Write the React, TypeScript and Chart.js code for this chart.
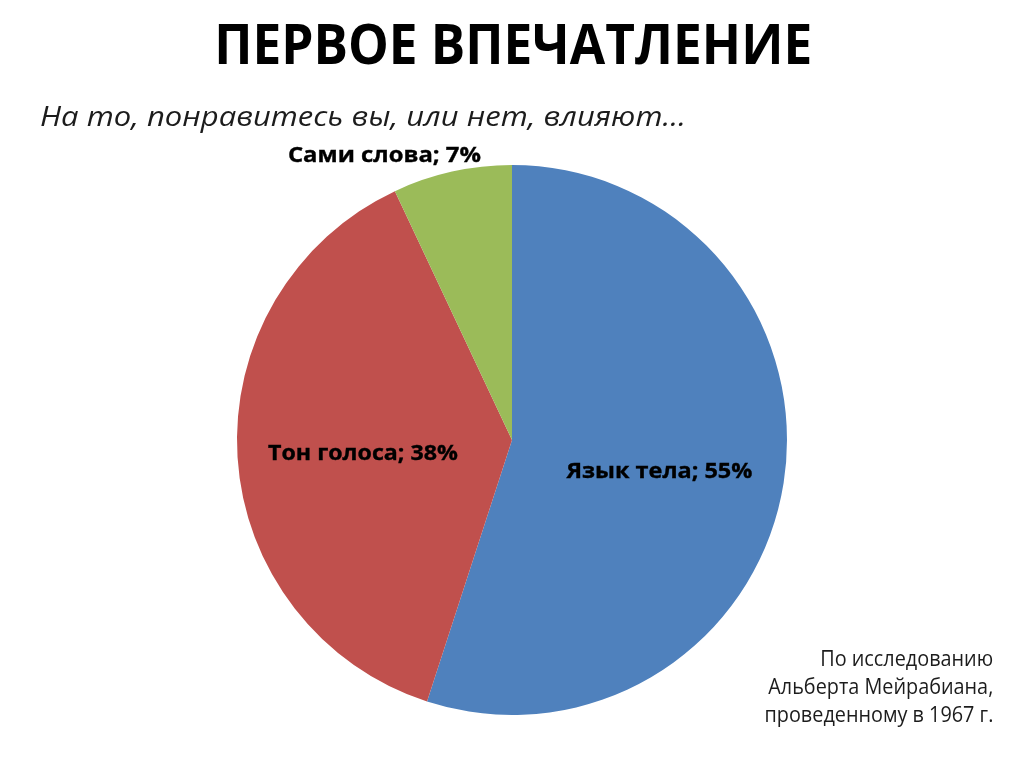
import React, { useEffect, useRef } from "react";
import { Chart, registerables } from "chart.js";

Chart.register(...registerables);

const categories = ["Язык тела", "Тон голоса", "Сами слова"];
const values = [55, 38, 7];
const colors = ["#4F81BD", "#C0504D", "#9BBB59"];

const titleText = "ПЕРВОЕ ВПЕЧАТЛЕНИЕ";
const subtitleText = "На то, понравитесь вы, или нет, влияют…";
const noteLines = ["По исследованию", "Альберта Мейрабиана,", "проведенному в 1967 г."];

// label placement as fraction of radius from pie centre (x centre, y baseline), and target widths
const labelPlacement = [
  { fx: 0.536, fy: 0.139, w: 186 },
  { fx: -0.542, fy: 0.073, w: 190 },
  { fx: -0.464, fy: -1.011, w: 193 },
];

const FAMILY = '"Open Sans", "DejaVu Sans", sans-serif';

let measureCtx: CanvasRenderingContext2D | null = null;
function measure(font: string, text: string): number {
  if (!measureCtx) {
    const c = document.createElement("canvas");
    measureCtx = c.getContext("2d");
  }
  measureCtx!.font = font;
  return measureCtx!.measureText(text).width;
}

type FitProps = {
  text: string;
  size: number;
  weight?: string;
  style?: string;
  x: number;
  baseline: number;
  anchor: "left" | "center" | "right";
  width?: number;
  scale?: number;
  color: string;
};

function FitText(p: FitProps) {
  const weight = p.weight || "normal";
  const fstyle = p.style || "normal";
  const font = `${fstyle} ${weight} ${p.size}px ${FAMILY}`;
  const w = measure(font, p.text);
  const sx = p.scale !== undefined ? p.scale : p.width ? p.width / w : 1;
  let left = p.x;
  let origin = "left";
  if (p.anchor === "center") {
    left = p.x - w / 2;
    origin = "center";
  } else if (p.anchor === "right") {
    left = p.x - w;
    origin = "right";
  }
  const lh = p.size;
  const top = p.baseline - (lh / 2 + 0.388 * p.size);
  return (
    <div
      style={{
        position: "absolute",
        left,
        top,
        width: w,
        whiteSpace: "nowrap",
        font,
        lineHeight: `${lh}px`,
        color: p.color,
        transform: `scaleX(${sx})`,
        transformOrigin: `${origin} center`,
      }}
    >
      {p.text}
    </div>
  );
}

export default function App() {
  const ref = useRef<HTMLCanvasElement>(null);

  useEffect(() => {
    if (!ref.current) return;
    const labelPlugin = {
      id: "sliceLabels",
      afterDatasetsDraw(chart: any) {
        const ctx = chart.ctx as CanvasRenderingContext2D;
        const meta = chart.getDatasetMeta(0);
        ctx.save();
        meta.data.forEach((arc: any, i: number) => {
          const pl = labelPlacement[i];
          const text = `${categories[i]}; ${values[i]}%`;
          const font = `bold 22px ${FAMILY}`;
          ctx.font = font;
          const tw = ctx.measureText(text).width;
          const sx = pl.w / tw;
          const cx = arc.x + pl.fx * arc.outerRadius;
          const by = arc.y + pl.fy * arc.outerRadius;
          ctx.save();
          ctx.translate(cx, by);
          ctx.scale(sx, 1);
          ctx.fillStyle = "#000000";
          ctx.strokeStyle = "#000000";
          ctx.lineWidth = 0.35;
          ctx.textAlign = "center";
          ctx.textBaseline = "alphabetic";
          ctx.fillText(text, 0, 0);
          ctx.strokeText(text, 0, 0);
          ctx.restore();
        });
        ctx.restore();
      },
    };

    const chart = new Chart(ref.current, {
      type: "pie",
      data: {
        labels: categories,
        datasets: [
          {
            data: values,
            backgroundColor: colors,
            borderWidth: 0,
          },
        ],
      },
      options: {
        responsive: false,
        animation: false,
        layout: { padding: { top: 165, bottom: 52, left: 237, right: 237 } },
        plugins: {
          legend: { display: false },
          tooltip: { enabled: false },
          title: { display: false },
        },
      },
      plugins: [labelPlugin],
    });
    return () => chart.destroy();
  }, []);

  return (
    <div
      style={{
        position: "absolute",
        left: 0,
        top: 0,
        width: 1024,
        height: 767,
        background: "#ffffff",
        overflow: "hidden",
      }}
    >
      <canvas ref={ref} width={1024} height={767} style={{ position: "absolute", left: 0, top: 0 }} />
      <FitText text={titleText} size={56} weight="bold" x={513} baseline={63.5} anchor="center" width={598} color="#000000" />
      <FitText text={subtitleText} size={27} style="italic" x={40} baseline={126} anchor="left" width={646} color="#1c1c1c" />
      {noteLines.map((t, i) => (
        <FitText
          key={i}
          text={t}
          size={21}
          x={993}
          baseline={667 + i * 28}
          anchor="right"
          scale={225 / measure(`normal normal 21px ${FAMILY}`, noteLines[1])}
          color="#1c1c1c"
        />
      ))}
    </div>
  );
}
